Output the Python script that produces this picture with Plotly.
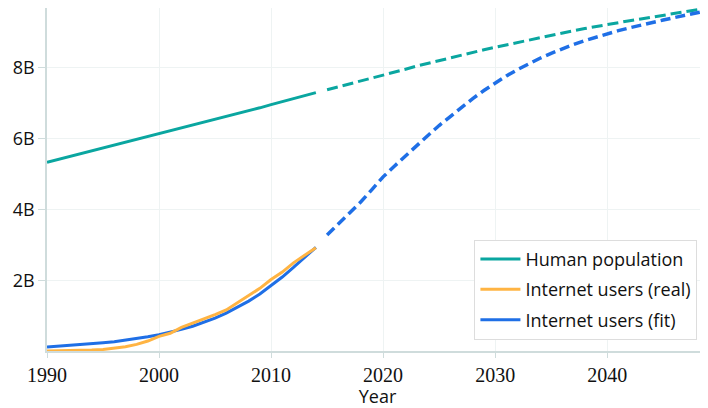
import plotly.graph_objects as go

years_hist = list(range(1990, 2015))
population_hist = [5.33, 5.41, 5.49, 5.57, 5.65, 5.74, 5.82, 5.90, 5.98, 6.06,
                   6.14, 6.22, 6.30, 6.38, 6.46, 6.54, 6.63, 6.71, 6.79, 6.87,
                   6.96, 7.04, 7.13, 7.21, 7.30]
internet_real = [0.0026, 0.0044, 0.0070, 0.014, 0.025, 0.045, 0.077, 0.12, 0.188, 0.281,
                 0.414, 0.50, 0.665, 0.781, 0.91, 1.03, 1.16, 1.37, 1.57, 1.77,
                 2.02, 2.23, 2.49, 2.71, 2.92]
internet_fit_hist = [0.11, 0.13, 0.15, 0.17, 0.20, 0.23, 0.26, 0.30, 0.35, 0.40,
                     0.46, 0.53, 0.61, 0.70, 0.81, 0.93, 1.07, 1.23, 1.41, 1.61,
                     1.84, 2.09, 2.36, 2.64, 2.93]

years_proj = list(range(2015, 2050))
population_proj = [7.38, 7.46, 7.55, 7.63, 7.70, 7.78, 7.87, 7.96, 8.05, 8.13,
                   8.21, 8.29, 8.36, 8.44, 8.51, 8.58, 8.65, 8.72, 8.79, 8.86,
                   8.93, 8.99, 9.05, 9.11, 9.17, 9.22, 9.27, 9.33, 9.38, 9.43,
                   9.49, 9.54, 9.59, 9.64, 9.69]
internet_fit_proj = [3.28, 3.58, 3.89, 4.21, 4.56, 4.92, 5.22, 5.52, 5.81, 6.09,
                     6.37, 6.63, 6.89, 7.13, 7.36, 7.58, 7.77, 7.95, 8.12, 8.27,
                     8.41, 8.54, 8.66, 8.77, 8.87, 8.96, 9.05, 9.13, 9.21, 9.28,
                     9.35, 9.42, 9.49, 9.55, 9.62]

y_ticks = [2, 4, 6, 8]
y_tick_text = ["2B", "4B", "6B", "8B"]
x_ticks = [1990, 2000, 2010, 2020, 2030, 2040]

TEAL = "#0aa6a0"
ORANGE = "#ffb443"
BLUE = "#1f6fe6"
B = 1e9

fig = go.Figure()
fig.add_trace(go.Scatter(x=years_hist, y=[v * B for v in population_hist], mode="lines",
                         name="Human population", legendgroup="a",
                         line=dict(color=TEAL, width=3)))
fig.add_trace(go.Scatter(x=years_proj, y=[v * B for v in population_proj], mode="lines",
                         showlegend=False, line=dict(color=TEAL, width=3, dash="11px,5px")))
fig.add_trace(go.Scatter(x=years_hist, y=[v * B for v in internet_fit_hist], mode="lines",
                         showlegend=False, line=dict(color=BLUE, width=3)))
fig.add_trace(go.Scatter(x=years_proj, y=[v * B for v in internet_fit_proj], mode="lines",
                         showlegend=False, line=dict(color=BLUE, width=3.5, dash="10px,5px")))
fig.add_trace(go.Scatter(x=years_hist, y=[v * B for v in internet_real], mode="lines",
                         name="Internet users (real)", legendgroup="b",
                         line=dict(color=ORANGE, width=3)))
fig.add_trace(go.Scatter(x=[None], y=[None], mode="lines",
                         name="Internet users (fit)", legendgroup="c",
                         line=dict(color=BLUE, width=3)))

AX = "#cfdcdc"
GRID = "#eef3f3"
fig.update_layout(
    width=700, height=400,
    margin=dict(l=39, r=0, t=0, b=57, autoexpand=False),
    paper_bgcolor="white", plot_bgcolor="white",
    font=dict(family="Open Sans", size=18, color="#111"),
    showlegend=True,
    legend=dict(x=0.984, y=0.033, xanchor="right", yanchor="bottom",
                bgcolor="white", bordercolor="#dddddd", borderwidth=1,
                font=dict(family="Open Sans", size=18, color="#111"),
                traceorder="grouped", tracegroupgap=4, itemwidth=40),
    xaxis=dict(range=[1990, 2049], tickvals=x_ticks, showgrid=True, gridcolor=GRID,
               zeroline=False, showline=True, linecolor=AX, linewidth=1.5, mirror=True,
               ticks="outside", ticklen=5, tickcolor=AX, automargin=False,
               tickfont=dict(family="Liberation Serif", size=20, color="#111"),
               title=dict(text="Year", font=dict(family="Open Sans", size=18, color="#111"), standoff=4)),
    yaxis=dict(range=[0, 9.69e9], tickvals=[v * B for v in y_ticks], ticktext=y_tick_text,
               showgrid=True, gridcolor=GRID, zeroline=False, showline=True,
               linecolor=AX, linewidth=1.5, mirror=True, automargin=False,
               ticks="outside", ticklen=7, tickcolor=AX,
               tickfont=dict(family="Open Sans", size=18, color="#111")),
)

fig.write_html("out.html")
